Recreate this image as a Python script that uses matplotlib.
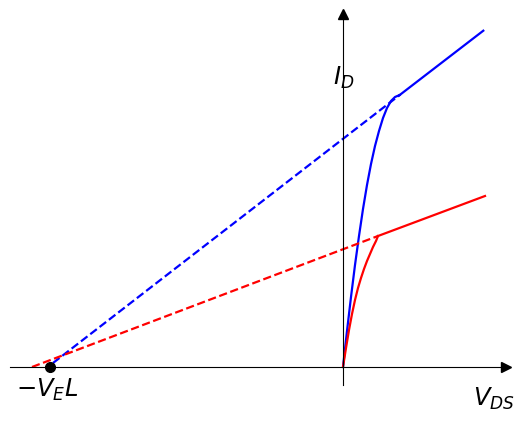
import numpy as np
import matplotlib
matplotlib.use("Agg")
import matplotlib.pyplot as plt

# triode region
blue_v = [0, 0.04, 0.08, 0.12, 0.16, 0.20, 0.24, 0.28, 0.32, 0.36, 0.40, 0.44, 0.48, 0.52, 0.567]
blue_i = [0, 0.36, 0.70, 1.02, 1.31, 1.58, 1.82, 2.03, 2.21, 2.36, 2.49, 2.59, 2.66, 2.70, 2.72]
red_v = [0, 0.03, 0.06, 0.09, 0.12, 0.15, 0.18, 0.21, 0.24, 0.27, 0.30, 0.33, 0.35]
red_i = [0, 0.19, 0.37, 0.53, 0.67, 0.79, 0.89, 0.98, 1.06, 1.13, 1.20, 1.26, 1.31]

# saturation lines: [extrapolated start, knee, end]
blue_sat_v = [-2.90, 0.567, 1.403]
blue_sat_i = [0.04, 2.72, 3.363]
red_sat_v = [-3.11, 0.35, 1.42]
red_sat_i = [0.0, 1.31, 1.71]

ve_l = -2.93

fig = plt.figure(figsize=(5.26, 4.23), dpi=100)
ax = fig.add_axes([10 / 526, 38 / 423, 496 / 526, 371 / 423])

ax.plot(blue_v, blue_i, color='blue', lw=1.6)
ax.plot(blue_sat_v[1:], blue_sat_i[1:], color='blue', lw=1.6)
ax.plot(blue_sat_v[:2], blue_sat_i[:2], '--', color='blue', lw=1.6)

ax.plot(red_v, red_i, color='red', lw=1.6)
ax.plot(red_sat_v[1:], red_sat_i[1:], color='red', lw=1.6)
ax.plot(red_sat_v[:2], red_sat_i[:2], '--', color='red', lw=1.6)

ax.plot([ve_l], [0], 'o', color='black', ms=7, clip_on=False)

ax.set_xlim(-3.33, 1.63)
ax.set_ylim(-0.18, 3.53)

ax.spines['left'].set_position(('data', 0))
ax.spines['bottom'].set_position(('data', 0))
ax.spines['top'].set_visible(False)
ax.spines['right'].set_visible(False)
ax.set_xticks([])
ax.set_yticks([])

ax.plot(1, 0, '>k', ms=7, transform=ax.get_yaxis_transform(), clip_on=False)
ax.plot(0, 1, '^k', ms=7, transform=ax.get_xaxis_transform(), clip_on=False)

ax.text(0.01, 2.89, '$I_D$', fontsize=17.5, ha='center', va='center')
ax.text(1.51, -0.32, '$V_{DS}$', fontsize=17.5, ha='center', va='center')
ax.text(ve_l - 0.03, -0.23, '$-V_EL$', fontsize=17.5, ha='center', va='center')

fig.savefig('out.png', dpi=100)
